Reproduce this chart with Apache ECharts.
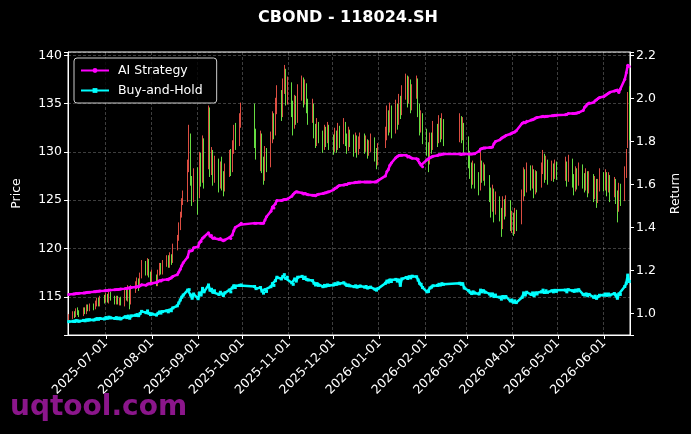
<!DOCTYPE html>
<html>
<head>
<meta charset="utf-8">
<title>CBOND - 118024.SH</title>
<script src="https://cdn.jsdelivr.net/npm/echarts@6/dist/echarts.min.js"></script>
<style>
  html, body { margin: 0; padding: 0; background: #000; }
  #chart { width: 691px; height: 434px; }
</style>
</head>
<body>
<div id="chart"></div>
<script>
const FONT = "DejaVu Sans";

// x axis: calendar days, month tick labels
const firstDay = "2025-06-06";
const lastDay = "2026-06-18";
const monthTicks = [
  "2025-07-01", "2025-08-01", "2025-09-01", "2025-10-01", "2025-11-01", "2025-12-01",
  "2026-01-01", "2026-02-01", "2026-03-01", "2026-04-01", "2026-05-01", "2026-06-01",
];
// exchange closed (weekdays)
const holidays = [
  "2025-10-01", "2025-10-02", "2025-10-03", "2025-10-06", "2025-10-07", "2025-10-08",
  "2026-01-01", "2026-01-02",
  "2026-02-16", "2026-02-17", "2026-02-18", "2026-02-19", "2026-02-20", "2026-02-23",
  "2026-04-06", "2026-05-01", "2026-05-04", "2026-05-05",
];

// one row per month, one value per trading day
const openPrices = [
  112.7, 112.9, 113.3, 113.0, 113.6, 113.4, 113.1, 113.7, 113.3, 114.0, 113.6, 114.1, 113.8, 114.2, 114.7, 114.1, 114.9,
  114.6, 115.1, 114.5, 115.3, 114.9, 114.4, 114.9, 114.3, 114.8, 114.2, 115.5, 114.8, 115.9, 114.5, 115.7, 116.1, 116.7, 116.1, 117.1, 118.5, 117.5, 118.7, 117.2,
  116.5, 117.1, 116.3, 117.4, 118.3, 117.5, 118.4, 119.0, 118.2, 119.2, 118.7, 120.1, 121.1, 122.2, 123.5, 124.9, 125.3, 128.4, 131.6, 127.1, 125.1,
  127.6, 125.9, 129.2, 127.3, 130.8, 128.8, 134.2, 128.4, 129.6, 127.4, 128.7, 126.8, 128.3, 127.1, 126.2, 128.0, 129.4, 128.3, 130.5, 132.0, 131.0, 133.2,
  134.8, 131.6, 129.8, 131.3, 128.8, 127.5, 129.7, 128.8, 131.3, 133.4, 132.1, 134.6, 135.7, 134.2, 136.8, 138.1, 135.7,
  136.7, 134.6, 133.0, 135.0, 133.7, 136.1, 137.0, 135.5, 136.5, 134.9, 133.8, 134.6, 132.3, 131.2, 132.7, 131.7, 130.8, 132.0, 131.4, 132.3,
  131.1, 130.5, 131.7, 130.7, 132.1, 131.2, 132.6, 131.5, 130.6, 131.8, 131.3, 130.4, 131.3, 130.3, 130.8, 131.4, 130.6, 130.9, 130.1, 130.5, 131.1, 129.9, 129.0,
  130.6, 131.6, 133.7, 132.5, 134.2, 132.3, 134.4, 133.2, 135.1, 134.2, 136.0, 137.3, 135.6, 136.9, 134.9, 136.1, 137.0, 134.5, 132.8, 133.4,
  131.7, 130.3, 129.1, 131.2, 130.7, 132.3, 131.4, 132.9, 131.9, 132.8, 131.6, 133.1, 132.0, 132.6,
  130.7, 129.3, 128.2, 127.1, 128.2, 127.2, 126.5, 128.5, 127.6, 128.1, 127.1, 125.7, 124.3, 125.7, 124.1, 124.8, 123.7, 122.5, 124.5, 123.9, 124.6, 122.7,
  123.1, 122.2, 123.4, 122.8, 125.3, 127.5, 126.3, 127.9, 126.9, 127.8, 126.1, 127.4, 126.7, 128.1, 129.3, 127.7, 128.7, 127.5, 128.3, 127.7, 128.6,
  127.6, 128.5, 127.3, 128.8, 127.2, 126.3, 127.7, 127.0, 128.1, 127.2, 126.5, 127.5, 126.2, 127.2, 125.7, 126.7, 125.3, 126.4,
  127.3, 126.5, 127.4, 126.4, 127.1, 126.0, 126.6, 125.5, 124.3, 126.0, 125.2, 127.7, 130.6, 136.6,
];
const closePrices = [
  112.9, 113.2, 113.0, 113.5, 113.3, 113.1, 113.6, 113.4, 113.9, 113.7, 114.0, 113.8, 114.3, 114.6, 114.2, 114.8, 114.5,
  115.0, 114.6, 115.2, 114.8, 114.5, 114.9, 114.4, 114.7, 114.3, 115.4, 114.9, 115.8, 114.6, 115.9, 116.2, 116.6, 116.0, 117.2, 118.4, 117.6, 118.6, 117.3, 116.6,
  117.0, 116.4, 117.5, 118.2, 117.6, 118.5, 118.9, 118.3, 119.1, 118.6, 120.2, 121.0, 122.3, 123.4, 124.8, 125.5, 128.6, 132.2, 127.0, 125.2, 127.8,
  125.8, 129.4, 127.1, 131.0, 128.6, 133.9, 128.2, 129.8, 127.2, 128.9, 126.6, 128.5, 126.9, 126.0, 128.1, 129.6, 128.1, 130.6, 132.1, 130.8, 133.4, 134.3,
  131.4, 130.0, 131.5, 128.6, 127.3, 129.9, 128.5, 131.4, 133.5, 131.9, 134.8, 135.9, 134.0, 137.0, 138.3, 135.5, 136.9,
  134.4, 132.8, 135.2, 133.5, 136.3, 137.2, 135.3, 136.7, 134.7, 133.6, 134.8, 132.1, 131.0, 132.9, 131.5, 130.6, 132.2, 131.2, 132.5, 130.9,
  130.3, 131.9, 130.5, 132.3, 131.0, 132.8, 131.3, 130.4, 132.0, 131.1, 130.2, 131.5, 130.1, 131.0, 131.6, 130.4, 131.1, 129.9, 130.7, 131.3, 129.7, 128.8, 130.4,
  131.8, 133.9, 132.3, 134.4, 132.1, 134.6, 133.0, 135.3, 134.0, 136.2, 137.5, 135.4, 137.1, 134.7, 136.3, 137.2, 134.3, 132.6, 133.6, 131.5,
  130.1, 128.9, 131.4, 130.5, 132.5, 131.2, 133.1, 131.7, 133.0, 131.4, 133.3, 131.8, 132.8, 130.5,
  129.1, 128.0, 126.9, 128.4, 127.0, 126.3, 128.7, 127.4, 128.3, 126.9, 125.5, 124.1, 125.9, 123.9, 125.0, 123.5, 122.3, 124.7, 123.7, 124.8, 122.5, 123.3,
  122.0, 123.6, 122.6, 125.5, 127.7, 126.1, 128.1, 126.7, 128.0, 125.9, 127.6, 126.5, 128.3, 129.5, 127.5, 128.9, 127.3, 128.5, 127.5, 128.8, 127.8,
  128.7, 127.1, 129.0, 127.0, 126.1, 127.9, 126.8, 128.3, 127.0, 126.3, 127.7, 126.0, 127.4, 125.5, 126.9, 125.1, 126.6, 127.5,
  126.7, 127.6, 126.2, 127.3, 125.8, 126.8, 125.3, 124.1, 126.2, 125.0, 127.9, 129.8, 135.6, 133.4,
];
const lowPrices = [
  112.5, 112.7, 112.8, 112.9, 113.1, 112.9, 113.0, 113.2, 113.2, 113.5, 113.5, 113.6, 113.7, 114.0, 114.0, 114.0, 114.3,
  114.4, 114.4, 114.3, 114.6, 114.2, 114.2, 114.2, 114.1, 114.1, 114.0, 114.6, 114.5, 113.7, 114.2, 115.4, 115.8, 115.6, 115.9, 116.9, 117.2, 117.2, 117.0, 116.2,
  116.2, 116.1, 116.1, 117.2, 117.3, 117.3, 118.1, 118.0, 118.0, 118.3, 118.5, 119.8, 120.8, 121.9, 123.2, 124.5, 124.8, 127.9, 126.5, 124.4, 124.8,
  123.5, 125.2, 126.4, 126.8, 126.2, 128.2, 127.4, 127.6, 126.5, 126.8, 125.8, 126.2, 126.0, 125.4, 125.9, 127.4, 127.5, 127.9, 129.8, 130.2, 130.6, 132.5,
  130.4, 129.2, 128.0, 127.8, 126.6, 127.0, 127.9, 128.4, 130.9, 131.3, 131.7, 133.9, 133.2, 133.6, 136.0, 134.8, 134.9,
  133.6, 131.7, 132.4, 132.8, 133.0, 135.3, 134.6, 134.9, 134.0, 132.8, 133.0, 131.4, 130.4, 130.6, 130.9, 129.9, 130.2, 130.5, 130.9, 130.2,
  129.7, 130.0, 129.9, 130.2, 130.4, 130.8, 130.6, 129.8, 130.1, 130.5, 129.5, 129.9, 129.4, 129.7, 130.3, 129.8, 130.0, 129.3, 129.6, 130.0, 129.0, 128.2, 128.6,
  130.4, 131.2, 131.7, 132.0, 131.4, 131.9, 132.3, 132.8, 133.4, 133.8, 135.4, 134.6, 135.0, 134.0, 134.3, 135.5, 133.6, 131.7, 132.0, 130.8,
  129.6, 127.9, 128.7, 129.8, 130.2, 130.5, 130.9, 131.0, 131.3, 130.6, 131.0, 130.9, 131.2, 129.8,
  128.3, 127.2, 126.2, 126.6, 126.2, 125.5, 126.0, 126.8, 127.0, 126.5, 124.8, 123.2, 123.8, 122.7, 123.5, 122.8, 121.2, 122.0, 123.0, 123.3, 121.8, 121.6,
  121.3, 121.5, 121.8, 122.5, 124.9, 125.4, 125.8, 126.0, 126.2, 125.2, 125.6, 125.8, 126.3, 127.7, 126.8, 127.1, 126.6, 127.0, 126.9, 127.2, 127.1,
  127.0, 126.4, 126.9, 126.3, 125.5, 125.9, 126.1, 126.5, 126.2, 125.8, 126.0, 125.3, 125.7, 124.8, 125.1, 124.2, 124.7, 125.9,
  125.9, 126.0, 125.4, 125.8, 124.8, 125.3, 124.6, 122.7, 123.8, 124.4, 124.9, 127.3, 130.4, 131.2,
];
const highPrices = [
  113.2, 113.5, 113.5, 113.8, 113.9, 113.6, 113.9, 113.9, 114.2, 114.2, 114.3, 114.3, 114.6, 114.9, 114.9, 115.1, 115.2,
  115.4, 115.3, 115.5, 115.5, 115.1, 115.1, 115.1, 114.9, 115.0, 115.7, 115.8, 116.2, 116.1, 116.2, 116.6, 117.0, 116.9, 117.5, 118.8, 118.7, 119.0, 118.9, 117.6,
  117.8, 117.3, 117.8, 118.5, 118.5, 118.8, 119.3, 119.3, 119.6, 119.4, 120.5, 121.4, 122.7, 123.8, 125.2, 126.0, 129.2, 132.8, 131.9, 127.5, 128.3,
  128.4, 130.0, 129.9, 131.7, 131.4, 134.8, 134.6, 130.5, 130.2, 129.6, 129.3, 129.0, 129.5, 128.0, 128.8, 130.2, 130.3, 131.2, 132.8, 133.0, 134.0, 135.1,
  135.0, 132.4, 132.2, 131.9, 129.5, 130.6, 130.4, 132.1, 134.2, 134.0, 135.6, 136.9, 136.4, 137.6, 139.0, 138.6, 137.8,
  137.2, 135.3, 135.9, 135.8, 137.0, 137.9, 137.7, 137.5, 137.1, 135.5, 135.5, 135.0, 132.9, 133.5, 133.1, 132.2, 132.8, 132.6, 133.1, 132.8,
  131.8, 132.5, 132.2, 133.0, 132.7, 133.5, 133.1, 131.9, 132.6, 132.3, 131.8, 132.0, 131.7, 131.6, 132.0, 131.9, 131.7, 131.3, 131.2, 131.9, 131.5, 130.4, 130.9,
  132.6, 134.8, 134.3, 135.1, 134.8, 135.4, 135.0, 136.0, 135.8, 136.9, 138.1, 137.9, 137.8, 137.5, 137.0, 137.9, 137.6, 135.0, 134.3, 134.0,
  132.4, 131.0, 132.0, 132.0, 133.2, 132.9, 133.8, 133.5, 134.0, 133.4, 134.0, 133.7, 133.6, 133.0,
  131.6, 130.1, 128.9, 129.1, 128.8, 127.9, 130.0, 129.1, 128.9, 128.7, 127.6, 126.3, 126.6, 126.2, 125.9, 125.4, 124.2, 125.4, 125.1, 125.5, 125.0, 123.9,
  123.7, 124.2, 124.0, 126.1, 128.4, 128.2, 128.9, 128.6, 128.6, 128.2, 128.1, 128.0, 128.9, 130.2, 129.8, 129.6, 129.2, 129.1, 128.8, 129.2, 129.0,
  129.5, 129.0, 129.7, 129.3, 127.7, 128.5, 128.3, 128.9, 128.7, 127.8, 128.3, 128.0, 128.0, 127.7, 127.5, 127.2, 127.2, 128.3,
  127.9, 128.2, 127.9, 127.9, 127.6, 127.4, 127.2, 126.0, 126.8, 126.7, 128.5, 130.3, 136.2, 136.8,
];
const aiReturn = [
  1.088, 1.090, 1.090, 1.092, 1.092, 1.093, 1.095, 1.095, 1.097, 1.098, 1.098, 1.100, 1.101, 1.103, 1.103, 1.104, 1.105,
  1.106, 1.106, 1.108, 1.108, 1.110, 1.111, 1.111, 1.112, 1.113, 1.115, 1.116, 1.118, 1.117, 1.120, 1.122, 1.125, 1.124, 1.128, 1.133, 1.131, 1.136, 1.138, 1.136,
  1.140, 1.143, 1.147, 1.152, 1.150, 1.155, 1.158, 1.156, 1.162, 1.165, 1.172, 1.180, 1.192, 1.205, 1.222, 1.235, 1.262, 1.290, 1.290, 1.292, 1.305,
  1.310, 1.330, 1.335, 1.350, 1.355, 1.375, 1.360, 1.362, 1.350, 1.352, 1.345, 1.348, 1.342, 1.338, 1.342, 1.352, 1.348, 1.365, 1.385, 1.400, 1.412, 1.420,
  1.420, 1.420, 1.420, 1.420, 1.420, 1.435, 1.450, 1.475, 1.495, 1.490, 1.510, 1.525, 1.525, 1.528, 1.530, 1.530, 1.532,
  1.545, 1.555, 1.562, 1.566, 1.565, 1.560, 1.556, 1.558, 1.554, 1.552, 1.550, 1.550, 1.548, 1.552, 1.555, 1.558, 1.560, 1.562, 1.565, 1.566,
  1.575, 1.582, 1.585, 1.592, 1.595, 1.598, 1.600, 1.600, 1.605, 1.606, 1.608, 1.610, 1.610, 1.612, 1.612, 1.612, 1.612, 1.612, 1.612, 1.612, 1.612, 1.612, 1.618,
  1.640, 1.660, 1.670, 1.690, 1.700, 1.725, 1.730, 1.735, 1.736, 1.736, 1.736, 1.728, 1.730, 1.724, 1.722, 1.720, 1.718, 1.700, 1.690, 1.682,
  1.715, 1.720, 1.725, 1.728, 1.732, 1.735, 1.740, 1.738, 1.742, 1.742, 1.742, 1.740, 1.742, 1.742,
  1.742, 1.742, 1.742, 1.743, 1.743, 1.755, 1.765, 1.768, 1.770, 1.770, 1.772, 1.772, 1.775, 1.790, 1.800, 1.808, 1.815, 1.820, 1.822, 1.828, 1.835, 1.840,
  1.842, 1.845, 1.850, 1.885, 1.890, 1.888, 1.895, 1.900, 1.902, 1.905, 1.910, 1.912, 1.915, 1.918, 1.915, 1.918, 1.918, 1.920, 1.920, 1.922, 1.922,
  1.925, 1.926, 1.930, 1.930, 1.930, 1.932, 1.933, 1.935, 1.945, 1.960, 1.965, 1.975, 1.980, 1.982, 1.990, 1.995, 2.000, 2.005,
  2.010, 2.015, 2.020, 2.025, 2.030, 2.035, 2.038, 2.040, 2.028, 2.045, 2.090, 2.120, 2.155, 2.150,
];
const holdReturn = [
  0.961, 0.963, 0.962, 0.966, 0.964, 0.963, 0.967, 0.965, 0.969, 0.968, 0.970, 0.969, 0.972, 0.975, 0.972, 0.976, 0.974,
  0.980, 0.977, 0.982, 0.979, 0.976, 0.980, 0.975, 0.978, 0.974, 0.984, 0.980, 0.987, 0.977, 0.988, 0.991, 0.994, 0.989, 0.999, 1.009, 1.003, 1.011, 1.000, 0.994,
  0.997, 0.992, 1.000, 1.006, 1.001, 1.008, 1.012, 1.007, 1.015, 1.012, 1.025, 1.035, 1.048, 1.062, 1.075, 1.085, 1.108, 1.110, 1.085, 1.070, 1.090,
  1.068, 1.095, 1.085, 1.116, 1.100, 1.132, 1.108, 1.112, 1.098, 1.105, 1.088, 1.098, 1.090, 1.083, 1.095, 1.108, 1.100, 1.118, 1.128, 1.120, 1.130, 1.132,
  1.125, 1.115, 1.120, 1.103, 1.094, 1.110, 1.102, 1.124, 1.138, 1.130, 1.152, 1.168, 1.160, 1.172, 1.180, 1.162, 1.168,
  1.142, 1.135, 1.160, 1.150, 1.168, 1.172, 1.162, 1.168, 1.158, 1.155, 1.152, 1.140, 1.132, 1.138, 1.130, 1.124, 1.130, 1.127, 1.132, 1.130,
  1.132, 1.138, 1.135, 1.142, 1.138, 1.142, 1.136, 1.130, 1.132, 1.128, 1.124, 1.128, 1.122, 1.125, 1.127, 1.122, 1.125, 1.118, 1.120, 1.122, 1.112, 1.108, 1.115,
  1.140, 1.150, 1.145, 1.155, 1.148, 1.158, 1.150, 1.155, 1.130, 1.160, 1.167, 1.162, 1.170, 1.165, 1.173, 1.170, 1.155, 1.140, 1.135, 1.120,
  1.100, 1.102, 1.118, 1.122, 1.128, 1.130, 1.135, 1.132, 1.138, 1.135, 1.140, 1.135, 1.138, 1.118,
  1.105, 1.098, 1.092, 1.100, 1.095, 1.090, 1.108, 1.100, 1.105, 1.098, 1.090, 1.082, 1.090, 1.078, 1.085, 1.075, 1.066, 1.078, 1.072, 1.078, 1.058, 1.062,
  1.052, 1.058, 1.050, 1.075, 1.095, 1.085, 1.098, 1.088, 1.095, 1.082, 1.095, 1.090, 1.100, 1.108, 1.097, 1.105, 1.098, 1.105, 1.100, 1.107, 1.102,
  1.108, 1.100, 1.110, 1.105, 1.102, 1.108, 1.104, 1.110, 1.088, 1.085, 1.090, 1.082, 1.088, 1.075, 1.080, 1.070, 1.078, 1.084,
  1.085, 1.090, 1.084, 1.090, 1.085, 1.092, 1.086, 1.070, 1.090, 1.088, 1.125, 1.140, 1.178, 1.148,
];

// build calendar and trading day lists
const calendarDays = [];
const tradingDays = [];
const endT = Date.parse(lastDay + "T00:00:00Z");
for (let t = Date.parse(firstDay + "T00:00:00Z"); t <= endT; t += 86400000) {
  const d = new Date(t);
  const s = d.toISOString().slice(0, 10);
  calendarDays.push(s);
  const wd = d.getUTCDay();
  if (wd !== 0 && wd !== 6 && holidays.indexOf(s) < 0) tradingDays.push(s);
}
if (tradingDays.length !== closePrices.length) {
  console.warn("trading days", tradingDays.length, "values", closePrices.length);
}

const candles = tradingDays.map((d, i) => [d, openPrices[i], closePrices[i], lowPrices[i], highPrices[i]]);
const aiLine = tradingDays.map((d, i) => [d, aiReturn[i]]);
const holdLine = tradingDays.map((d, i) => [d, holdReturn[i]]);

const isMonthTick = (idx, val) => monthTicks.indexOf(val) >= 0;
const UP = "#f5564a";
const DOWN = "#72f548";
const gridLine = { show: true, lineStyle: { color: "rgba(255,255,255,0.3)", width: 0.8, type: [3, 2] } };
const white = { color: "#ffffff", width: 1 };

const chart = echarts.init(document.getElementById("chart"));

const option = {
  backgroundColor: "#000000",
  animation: false,
  textStyle: { fontFamily: FONT },
  graphic: [
    {
      type: "text",
      x: 348,
      y: 18,
      style: {
        text: "CBOND - 118024.SH",
        fill: "#ffffff",
        font: "bold 16px 'DejaVu Sans'",
        textAlign: "center",
        textVerticalAlign: "middle",
      },
    },
    {
      type: "text",
      x: 10,
      y: 408,
      z: 100,
      style: {
        text: "uqtool.com",
        fill: "#8b168b",
        font: "bold 28px 'DejaVu Sans'",
        textAlign: "left",
        textVerticalAlign: "middle",
      },
    },
  ],
  grid: {
    left: 68,
    right: 61,
    top: 52,
    bottom: 99,
    show: true,
    borderColor: "#ffffff",
    borderWidth: 1,
    backgroundColor: "#000000",
  },
  legend: {
    data: ["AI Strategy", "Buy-and-Hold"],
    orient: "vertical",
    left: 74,
    top: 58,
    itemWidth: 28,
    itemHeight: 6,
    itemGap: 7,
    padding: [6, 14, 6, 6],
    backgroundColor: "rgba(0,0,0,0.8)",
    borderColor: "#cccccc",
    borderWidth: 1,
    borderRadius: 3,
    textStyle: { color: "#ffffff", fontSize: 12.5, fontFamily: FONT, padding: [0, 0, 0, 4] },
  },
  xAxis: {
    type: "category",
    data: calendarDays,
    boundaryGap: true,
    axisLine: { show: true, lineStyle: white },
    axisTick: { show: true, alignWithLabel: true, interval: isMonthTick, length: 4, lineStyle: white },
    axisLabel: {
      interval: isMonthTick,
      rotate: 45,
      color: "#ffffff",
      fontSize: 12.5,
      fontFamily: FONT,
      margin: 6,
    },
    splitLine: Object.assign({ interval: isMonthTick }, gridLine),
  },
  yAxis: [
    {
      type: "value",
      position: "left",
      min: 111.04,
      max: 140.34,
      splitNumber: 6,
      name: "Price",
      nameLocation: "middle",
      nameGap: 45,
      nameRotate: 90,
      nameTextStyle: { color: "#ffffff", fontSize: 12.5, fontFamily: FONT },
      axisLine: { show: true, lineStyle: white },
      axisTick: { show: true, length: 4, lineStyle: white },
      axisLabel: {
        color: "#ffffff",
        fontSize: 12.5,
        fontFamily: FONT,
        margin: 6,
        formatter: (v) => (Math.abs(v / 5 - Math.round(v / 5)) < 1e-6 ? String(Math.round(v)) : ""),
      },
      splitLine: gridLine,
    },
    {
      type: "value",
      position: "right",
      min: 0.899,
      max: 2.217,
      splitNumber: 6,
      name: "Return",
      nameLocation: "middle",
      nameGap: 39,
      nameRotate: 90,
      nameTextStyle: { color: "#ffffff", fontSize: 12.5, fontFamily: FONT },
      axisLine: { show: true, lineStyle: white },
      axisTick: { show: true, length: 4, lineStyle: white },
      axisLabel: {
        color: "#ffffff",
        fontSize: 12.5,
        fontFamily: FONT,
        margin: 6,
        formatter: (v) => (Math.abs(v / 0.2 - Math.round(v / 0.2)) < 1e-6 ? v.toFixed(1) : ""),
      },
      splitLine: { show: false },
    },
  ],
  series: [
    {
      name: "Price",
      type: "candlestick",
      xAxisIndex: 0,
      yAxisIndex: 0,
      encode: { x: 0, y: [1, 2, 3, 4] },
      data: candles,
      barWidth: 1.3,
      z: 2,
      itemStyle: {
        color: UP,
        color0: DOWN,
        borderColor: UP,
        borderColor0: DOWN,
        borderWidth: 0.9,
      },
    },
    {
      name: "AI Strategy",
      type: "line",
      yAxisIndex: 1,
      data: aiLine,
      symbol: "circle",
      symbolSize: 3,
      showAllSymbol: true,
      z: 4,
      lineStyle: { color: "#ff00ff", width: 2.5 },
      itemStyle: { color: "#ff00ff" },
    },
    {
      name: "Buy-and-Hold",
      type: "line",
      yAxisIndex: 1,
      data: holdLine,
      symbol: "rect",
      symbolSize: 3,
      showAllSymbol: true,
      z: 4,
      lineStyle: { color: "#00ffff", width: 2.5 },
      itemStyle: { color: "#00ffff" },
    },
  ],
};

chart.setOption(option);
</script>
</body>
</html>
